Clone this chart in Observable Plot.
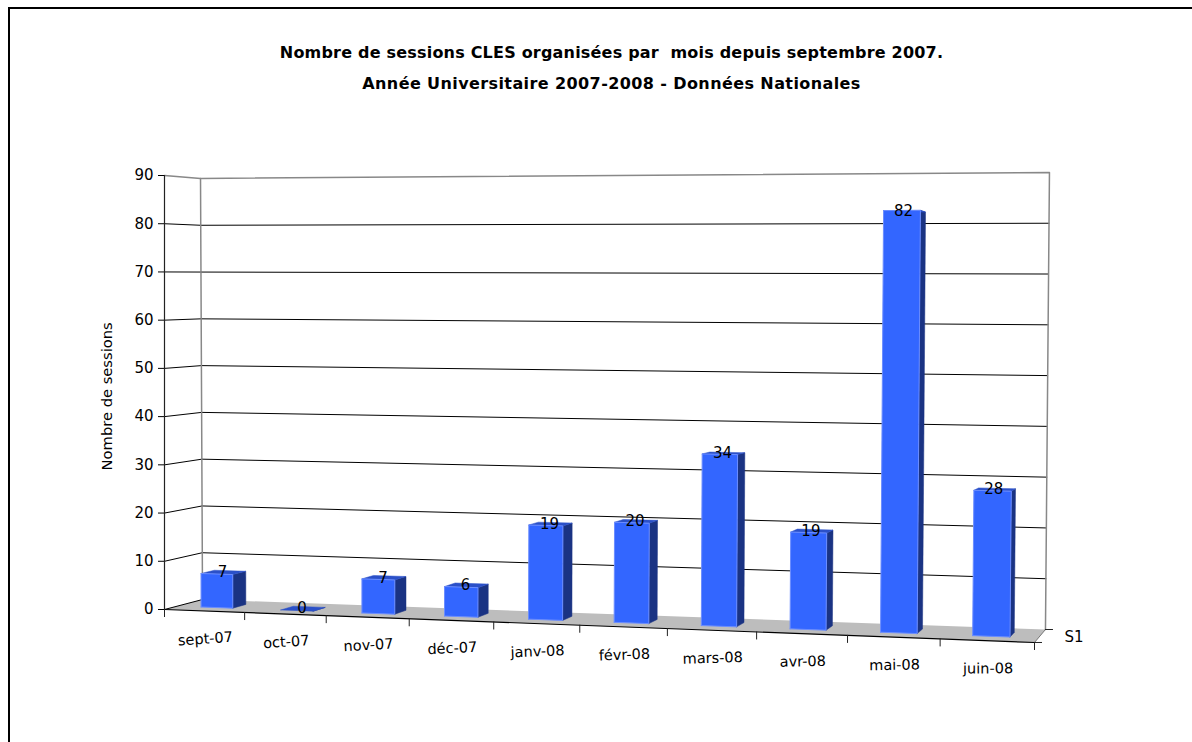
<!DOCTYPE html>
<html lang="fr">
<head>
<meta charset="utf-8">
<script src="https://cdn.jsdelivr.net/npm/d3@7"></script>
<script src="https://cdn.jsdelivr.net/npm/@observablehq/plot@0.6"></script>
<style>
  html, body { margin: 0; padding: 0; background: #fff; overflow: hidden; }
  #frame { position: absolute; left: 8px; top: 7px; right: 0; bottom: 0; border-top: 2px solid #000; border-left: 2px solid #000; }
  #title { height: 101px; box-sizing: border-box; padding: 28px 0 0 0; width: 1203px; font: bold 16px/31px "DejaVu Sans", sans-serif; text-align: center; color: #000; letter-spacing: 0.2px; }
  #title div { white-space: pre; }
  #title div + div { letter-spacing: 0.4px; }
  svg { display: block; }
</style>
</head>
<body>
<div id="frame">
  <div id="title"><div>Nombre de sessions CLES organisées par  mois depuis septembre 2007.</div><div>Année Universitaire 2007-2008 - Données Nationales</div></div>
  <div id="chart"></div>
</div>
<script>
const months = ["sept-07","oct-07","nov-07","déc-07","janv-08","févr-08","mars-08","avr-08","mai-08","juin-08"];
const sessions = [7, 0, 7, 6, 19, 20, 34, 19, 82, 28];
const valueTicks = [0, 10, 20, 30, 40, 50, 60, 70, 80, 90];
const seriesName = "S1";
const yTitle = "Nombre de sessions";

const font = '"DejaVu Sans", sans-serif';

// Camera: the chart box, in units of the front-left axis (x in category slots, y in sessions).
const box = {
  frontBottomLeft: [0, 0],       frontBottomRight: [10, -6.84],
  frontTopLeft: [0, 90],         frontTopRight: [10.05, 92.08],
  backBottomLeft: [0.437, 2.07], backBottomRight: [10.126, -4.15],
  backTopLeft: [0.414, 89.38],   backTopRight: [10.172, 90.63]
};
const perspective = 1.095;
const tickLen = {x: 0.092, y: 1.66};
const mix = (a, b, t) => [a[0] + (b[0] - a[0]) * t, a[1] + (b[1] - a[1]) * t];

// slot: 0..10 along the categories, v: sessions, depth: 0 at the back wall, 1 at the front.
function project(slot, v, depth) {
  const u = slot / 10;
  const t = u / (u + perspective * (1 - u));
  const h = v / 90;
  const back = mix(mix(box.backBottomLeft, box.backBottomRight, t), mix(box.backTopLeft, box.backTopRight, t), h);
  const front = mix(mix(box.frontBottomLeft, box.frontBottomRight, t), mix(box.frontTopLeft, box.frontTopRight, t), h);
  const p = mix(back, front, depth);
  return {x: p[0], y: p[1]};
}

const seg = (id, pts) => pts.map(p => ({id, ...project(...p)}));
const gridBack = valueTicks.slice(1, -1).flatMap(v => seg("b" + v, [[0, v, 0], [10, v, 0]]));
const gridSide = valueTicks.slice(0, -1).flatMap(v => seg("s" + v, [[0, v, 1], [0, v, 0]]));
const wallEdges = [
  ...seg("top", [[0, 90, 1], [0, 90, 0], [10, 90, 0], [10, 0, 0]]),
  ...seg("left", [[0, 90, 0], [0, 0, 0]])
];
const floor = seg("floor", [[0, 0, 1], [0, 0, 0], [10, 0, 0], [10, 0, 1], [0, 0, 1]]);
const floorFront = seg("ff", [[0, 0, 1], [10, 0, 1]]);
const floorRight = seg("fr", [[10, 0, 0], [10, 0, 1]]);
const slotTicks = d3.range(0, 11).map(i => project(i, 0, 1));
const depthTicks = [project(10, 0, 1), project(10, 0, 0)];

const front = 0.66, backFace = 0.30;
const barFaces = sessions.flatMap((v, i) => {
  const a = i + 0.3, b = i + 0.7;
  return [{
    face: "side",
    pts: seg("side" + i, [[b, 0, front], [b, 0, backFace], [b, v, backFace], [b, v, front], [b, 0, front]])
  }, {
    face: "top",
    pts: seg("top" + i, [[a, v, front], [a, v, backFace], [b, v, backFace], [b, v, front], [a, v, front]])
  }, {
    face: "front",
    pts: v > 0 ? seg("front" + i, [[a, 0, front], [a, v, front], [b, v, front], [b, 0, front], [a, 0, front]]) : []
  }];
});
const faces = name => barFaces.filter(d => d.face === name).flatMap(d => d.pts);

const valueLabels = sessions.map((v, i) => ({label: String(v), ...project(i + 0.5, v, (front + backFace) / 2)}));
const monthLabels = months.map((m, i) => ({label: m, rot: -4 + i * 0.4, ...project(i + 0.5, 0, 1)}));
const seriesLabel = [{label: seriesName, ...project(10, 0, 0.5)}];
const yTitleAnchor = [{label: yTitle, x: -0.655, y: 44.2}];

const poly = (data, o) => Plot.line(data, {x: "x", y: "y", z: "id", curve: "linear", ...o});

const chart = Plot.plot({
  width: 1182, height: 632,
  marginLeft: 154, marginRight: 158, marginTop: 65, marginBottom: 133,
  style: {background: "#fff", fontFamily: font, color: "#000", overflow: "visible"},
  x: {domain: [0, 10], axis: null},
  y: {domain: [0, 90]},
  marks: [
    poly(floor, {fill: "#bdbdbd", stroke: "none"}),
    poly(gridBack, {stroke: "#000", strokeWidth: 1}),
    poly(gridSide, {stroke: "#000", strokeWidth: 1}),
    poly(wallEdges, {stroke: "#888", strokeWidth: 1.5}),
    poly(floorFront, {stroke: "#000", strokeWidth: 1.2}),
    poly(floorRight, {stroke: "#777", strokeWidth: 1}),
    Plot.ruleX([0], {y1: 0, y2: 90, stroke: "#222", strokeWidth: 1.2}),
    Plot.axisY({
      ticks: valueTicks, tickSize: 6, tickPadding: 5, fontSize: 15,
      label: null, stroke: "#000"
    }),
    Plot.text(yTitleAnchor, {x: "x", y: "y", text: "label", rotate: -90, fontSize: 14.7, fill: "#000"}),
    Plot.ruleX(slotTicks, {x: "x", y1: "y", y2: d => d.y - tickLen.y, stroke: "#222", strokeWidth: 1}),
    Plot.ruleY(depthTicks, {y: "y", x1: "x", x2: d => d.x + tickLen.x, stroke: "#222", strokeWidth: 1}),
    poly(faces("side"), {fill: "#1a3383", stroke: "#1a3383", strokeWidth: 0.5}),
    poly(faces("top"), {fill: "#2b50c8", stroke: "#2b50c8", strokeWidth: 0.5}),
    poly(faces("front"), {fill: "#3366ff", stroke: "#6b8dff", strokeWidth: 1}),
    Plot.text(valueLabels, {x: "x", y: "y", text: "label", fontSize: 15, fill: "#000", dx: -1, dy: 0}),
    Plot.text(monthLabels, {x: "x", y: "y", text: "label", fontSize: 14.5, fill: "#000", dx: 1, dy: 28, rotate: "rot"}),
    Plot.text(seriesLabel, {x: "x", y: "y", text: "label", fontSize: 15, fill: "#000", dx: 34, dy: 1})
  ]
});
document.getElementById("chart").append(chart);
</script>
</body>
</html>
